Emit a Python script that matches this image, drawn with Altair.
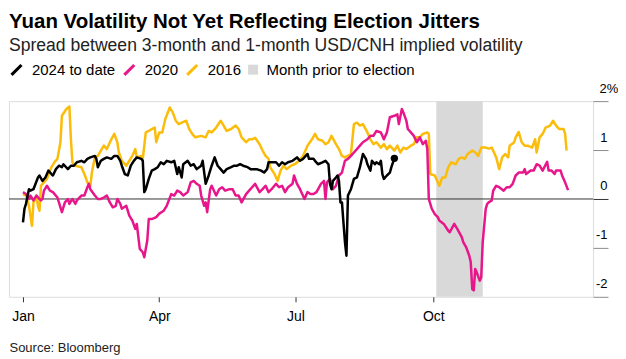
import altair as alt
import pandas as pd

FONT = "Liberation Sans"
YEAR_START = "2024-01-01"

# (day of year offset, spread in vol points)
S2024 = [(0, -0.48), (1, -0.20), (2, -0.10), (4, 0.20), (5, 0.17), (7, 0.20), (10, 0.44), (11, 0.48),
         (13, 0.37), (15, 0.44), (17, 0.58), (19, 0.51), (20, 0.48), (22, 0.61), (24, 0.68), (26, 0.65),
         (27, 0.71), (30, 0.61), (32, 0.68), (34, 0.68), (36, 0.75), (39, 0.78), (41, 0.75), (43, 0.82),
         (45, 0.85), (48, 0.88), (49, 0.82), (50, 0.65), (52, 0.78), (54, 0.82), (56, 0.85), (59, 0.82),
         (61, 0.88), (63, 0.88), (65, 0.78), (66, 0.68), (68, 0.51), (70, 0.48), (72, 0.68), (74, 0.78),
         (76, 0.85), (79, 0.82), (80, 0.78), (81, 0.14), (82, 0.20), (84, 0.41), (86, 0.58), (88, 0.61),
         (90, 0.65), (92, 0.75), (94, 0.71), (96, 0.78), (99, 0.75), (101, 0.78), (103, 0.51), (104, 0.65),
         (106, 0.44), (107, 0.71), (110, 0.78), (112, 0.68), (114, 0.71), (116, 0.61), (119, 0.68),
         (120, 0.78), (122, 0.31), (124, 0.48), (126, 0.68), (128, 0.85), (130, 0.68), (132, 0.61),
         (134, 0.54), (136, 0.61), (139, 0.65), (141, 0.68), (143, 0.68), (145, 0.71), (147, 0.68),
         (150, 0.65), (152, 0.61), (154, 0.61), (156, 0.61), (159, 0.58), (161, 0.54), (163, 0.61),
         (164, 0.75), (166, 0.75), (169, 0.75), (171, 0.68), (173, 0.75), (175, 0.71), (177, 0.75),
         (180, 0.78), (183, 0.85), (185, 0.78), (187, 0.82), (190, 0.92), (191, 0.82), (194, 0.82),
         (195, 0.78), (197, 0.71), (200, 0.75), (202, 0.78), (204, 0.71), (205, 0.31), (206, 0.20),
         (207, 0.37), (209, 0.44), (210, 0.48), (211, 0.37), (212, -0.07), (213, -0.07), (214, -0.48),
         (215, -0.88), (216, -1.16), (217, 0.07), (219, 0.20), (221, 0.41), (223, 0.44), (225, 0.65),
         (227, 0.92), (229, 0.82), (230, 0.71), (232, 0.58), (233, 0.78), (235, 0.71), (236, 0.75),
         (238, 0.71), (239, 0.78), (240, 0.51), (241, 0.41), (243, 0.48), (245, 0.54), (246, 0.65),
         (248, 0.83)]

S2020 = [(0, 0.14), (2, 0.10), (4, 0.00), (5, 0.07), (7, -0.03), (9, 0.07), (11, 0.00), (12, -0.03),
         (13, 0.00), (14, 0.17), (16, 0.27), (18, 0.17), (20, 0.14), (23, 0.03), (24, -0.07), (26, -0.27),
         (28, -0.07), (30, 0.00), (31, -0.10), (33, 0.00), (35, -0.10), (36, -0.03), (39, 0.07), (41, 0.07),
         (43, 0.24), (44, 0.31), (45, 0.20), (48, 0.07), (50, 0.00), (52, 0.00), (54, 0.03), (56, 0.07),
         (58, -0.07), (60, -0.17), (62, -0.14), (63, 0.00), (65, -0.10), (66, -0.20), (69, -0.14),
         (71, -0.34), (73, -0.44), (75, -0.61), (76, -0.51), (78, -1.02), (80, -1.09), (81, -1.19),
         (83, -0.85), (84, -0.41), (86, -0.41), (89, -0.37), (91, -0.30), (94, -0.24), (96, -0.14),
         (99, 0.10), (101, 0.07), (103, 0.17), (105, 0.14), (107, 0.07), (110, 0.14), (112, 0.34),
         (114, 0.37), (116, 0.31), (118, 0.27), (119, 0.07), (121, -0.14), (122, -0.07), (123, -0.27),
         (125, 0.20), (126, 0.27), (129, 0.07), (131, 0.20), (133, 0.24), (135, 0.17), (138, 0.20),
         (140, 0.20), (142, 0.07), (144, 0.07), (146, -0.07), (149, 0.10), (151, 0.17), (153, 0.24),
         (155, 0.31), (158, 0.14), (160, 0.20), (162, 0.27), (164, 0.14), (166, 0.20), (169, 0.31),
         (171, 0.24), (173, 0.27), (175, 0.14), (177, 0.24), (180, 0.31), (181, 0.48), (183, 0.31),
         (185, 0.20), (188, 0.00), (190, 0.14), (192, 0.10), (194, 0.10), (196, 0.14), (199, 0.31),
         (201, 0.37), (202, 0.00), (203, 0.34), (205, 0.41), (207, 0.20), (209, 0.27), (211, 0.48),
         (213, 0.54), (215, 0.78), (217, 0.82), (219, 0.88), (221, 0.95), (223, 1.02), (225, 1.09),
         (227, 1.16), (230, 1.22), (232, 1.29), (234, 1.29), (236, 1.39), (239, 1.36), (241, 1.22),
         (243, 1.36), (245, 1.67), (248, 1.70), (250, 1.73), (251, 1.53), (253, 1.84), (254, 1.77),
         (256, 1.60), (257, 1.43), (259, 1.36), (261, 1.29), (263, 1.16), (265, 1.26), (267, 1.12),
         (269, 1.19), (270, 1.02), (271, 0.00), (272, -0.10), (273, -0.20), (275, -0.31), (277, -0.37),
         (278, -0.44), (281, -0.51), (284, -0.65), (285, -0.68), (288, -0.51), (290, -0.61), (293, -0.78),
         (294, -0.88), (296, -0.99), (298, -1.16), (299, -1.29), (300, -1.84), (301, -1.87), (302, -1.43),
         (303, -1.50), (305, -1.67), (306, -1.60), (307, -0.88), (309, -0.20), (310, -0.10), (311, -0.07),
         (313, -0.03), (314, 0.17), (316, 0.27), (318, 0.24), (321, 0.17), (323, 0.24), (325, 0.24),
         (327, 0.31), (329, 0.48), (331, 0.54), (334, 0.54), (335, 0.61), (336, 0.51), (339, 0.58),
         (341, 0.58), (343, 0.71), (345, 0.68), (347, 0.58), (350, 0.76), (351, 0.58), (353, 0.58),
         (355, 0.51), (356, 0.58), (359, 0.58), (360, 0.48), (362, 0.34), (364, 0.18)]

S2016 = [(0, 0.10), (2, 0.07), (4, -0.14), (6, -0.55), (7, -0.07), (9, 0.07), (10, -0.14), (11, -0.24),
         (12, 0.27), (14, 0.34), (16, 0.41), (19, 0.65), (21, 0.75), (23, 0.82), (25, 1.16), (26, 1.70),
         (29, 1.84), (31, 1.89), (32, 1.22), (33, 0.75), (35, 0.68), (39, 0.65), (41, 0.51), (43, 0.34),
         (45, 0.27), (46, 0.54), (48, 0.85), (50, 0.88), (52, 0.99), (54, 1.09), (56, 1.02), (59, 1.22),
         (61, 1.33), (63, 1.16), (64, 0.95), (66, 0.78), (69, 0.68), (71, 0.78), (73, 0.88), (75, 1.02),
         (76, 0.85), (79, 0.88), (80, 0.82), (82, 1.36), (84, 1.39), (86, 1.43), (88, 1.46), (89, 1.16),
         (91, 1.36), (93, 1.36), (95, 1.63), (98, 1.87), (100, 1.77), (102, 1.60), (104, 1.53),
         (106, 1.56), (109, 1.60), (111, 1.43), (113, 1.33), (115, 1.26), (119, 1.29), (122, 1.26),
         (124, 1.39), (126, 1.36), (129, 1.46), (132, 1.60), (134, 1.50), (136, 1.39), (139, 1.43),
         (142, 1.50), (144, 1.43), (146, 1.26), (149, 1.16), (151, 1.22), (153, 1.22), (155, 1.25),
         (158, 1.12), (160, 0.99), (162, 0.88), (164, 0.82), (165, 0.65), (168, 0.51), (170, 0.37),
         (172, 0.58), (174, 0.68), (176, 0.61), (179, 0.68), (182, 0.72), (185, 0.80), (187, 0.88),
         (190, 1.09), (193, 1.22), (195, 1.33), (197, 1.22), (200, 1.19), (202, 1.12), (204, 1.16),
         (206, 1.29), (209, 1.12), (211, 1.02), (213, 0.88), (215, 0.85), (219, 0.92), (221, 1.53),
         (223, 1.56), (225, 1.50), (227, 1.53), (230, 1.36), (232, 1.22), (234, 1.12), (236, 1.16),
         (239, 1.05), (241, 1.12), (243, 1.02), (245, 1.09), (248, 0.99), (250, 1.09), (252, 0.95),
         (254, 1.05), (256, 1.02), (259, 1.09), (261, 1.12), (263, 1.26), (265, 1.26), (267, 1.33),
         (270, 1.36), (271, 1.33), (272, 0.51), (275, 0.48), (278, 0.27), (280, 0.44), (282, 0.44),
         (284, 0.65), (286, 0.75), (289, 0.71), (291, 0.82), (293, 0.85), (295, 0.82), (297, 0.92),
         (300, 0.99), (302, 0.95), (304, 0.88), (306, 1.05), (309, 1.05), (311, 1.03), (313, 1.05),
         (315, 0.92), (316, 0.85), (318, 0.61), (320, 0.85), (322, 0.92), (324, 0.85), (325, 1.09),
         (328, 1.16), (329, 1.26), (331, 1.37), (333, 1.16), (335, 1.09), (337, 1.09), (340, 1.05),
         (342, 1.22), (343, 0.95), (345, 1.26), (347, 1.33), (349, 1.46), (352, 1.50), (354, 1.60),
         (356, 1.50), (358, 1.43), (361, 1.43), (362, 1.33), (363, 0.99)]

SERIES = ["2024 to date", "2020", "2016"]
COLORS = ["#000000", "#e8168b", "#fbbc0a"]
SHADE_LABEL = "Month prior to election"
SHADE_START = "2024-10-03T00:00:00"
SHADE_END = "2024-11-03T00:00:00"
SHADE_COLOR = "#d9d9d9"
Y_TICKS = [-2, -1, 0, 1, 2]
X_TICKS = [(2024, 1, 1), (2024, 4, 1), (2024, 7, 1), (2024, 10, 1)]

rows = []
for name, pts in zip(SERIES, [S2024, S2020, S2016]):
    for d, v in pts:
        t = pd.Timestamp(YEAR_START) + pd.Timedelta(days=d)
        rows.append({"date": t.strftime("%Y-%m-%dT%H:%M:%S"), "value": v, "series": name})
df = pd.DataFrame(rows)

last = S2024[-1]
dot_df = pd.DataFrame([{
    "date": (pd.Timestamp(YEAR_START) + pd.Timedelta(days=last[0])).strftime("%Y-%m-%dT%H:%M:%S"),
    "value": last[1]}])
shade_df = pd.DataFrame([{"start": SHADE_START, "end": SHADE_END, "label": SHADE_LABEL,
                          "top": Y_TICKS[-1], "bottom": Y_TICKS[0]}])
zero_df = pd.DataFrame([{"y": 0}])

x_scale = alt.Scale(domain=[alt.DateTime(year=2023, month=12, date=22, hours=16),
                            alt.DateTime(year=2025, month=1, date=15, hours=16)], nice=False)
y_scale = alt.Scale(domain=[Y_TICKS[0], Y_TICKS[-1]], nice=False, zero=False)

x_axis = alt.Axis(values=[alt.DateTime(year=y, month=m, date=d) for y, m, d in X_TICKS],
                  format="%b", labelFontSize=14, labelFont=FONT, labelColor="#000",
                  labelPadding=8, labelFlush=False, labelOverlap=False,
                  tickSize=5, tickColor="#333333", domain=False, grid=False,
                  title="Source: Bloomberg", titleAnchor="start", titleAlign="left",
                  titleX=0, titleY=55, titleBaseline="alphabetic", titleFontSize=13,
                  titleFontWeight="normal", titleColor="#222222", titleFont=FONT)

y_axis = alt.Axis(orient="right", values=Y_TICKS, domain=False, grid=False, tickSize=15,
                  tickColor={"condition": {"test": "datum.value == 0", "value": "#333333"},
                             "value": "#8c8c8c"},
                  labelExpr="datum.value == 2 ? '2%' : '' + datum.value",
                  labelAlign={"condition": {"test": "datum.value == 2", "value": "left"},
                              "value": "right"},
                  labelPadding={"condition": {"test": "datum.value == 2", "value": -9},
                                "value": -1},
                  labelBaseline="alphabetic", labelOffset=-9, labelFontSize=13,
                  labelFont=FONT, labelColor="#000", title=None)

stroke_enc = alt.Stroke("series:N",
                        scale=alt.Scale(domain=SERIES, range=COLORS),
                        legend=alt.Legend(title=None, orient="none", legendX=0, legendY=-39,
                                          direction="horizontal", symbolType="M-1,1L1,-1",
                                          symbolSize=100, symbolStrokeWidth=3,
                                          labelFontSize=15, labelFont=FONT, labelColor="#000",
                                          labelOffset=8, columnPadding=2, padding=0))

base = alt.Chart(df)

shade = alt.Chart(shade_df).mark_rect().encode(
    x=alt.X("start:T", scale=x_scale, axis=x_axis),
    x2="end:T",
    y=alt.Y("top:Q", scale=y_scale, axis=y_axis),
    y2="bottom:Q",
    fill=alt.Fill("label:N", scale=alt.Scale(domain=[SHADE_LABEL], range=[SHADE_COLOR]),
                  legend=alt.Legend(title=None, orient="none", legendX=237, legendY=-39,
                                    direction="horizontal", symbolType="square",
                                    symbolSize=100, symbolStrokeWidth=0,
                                    symbolFillColor=SHADE_COLOR, symbolOpacity=1,
                                    labelFontSize=15, labelFont=FONT, labelColor="#000",
                                    labelOffset=6, padding=0)),
)

zero = alt.Chart(zero_df).mark_rule(color="#333333", strokeWidth=1).encode(
    y=alt.Y("y:Q", scale=y_scale, axis=y_axis))

lines = []
for name in ["2016", "2020", "2024 to date"]:
    lines.append(base.transform_filter(alt.datum.series == name).mark_line(
        strokeWidth=2.5, strokeJoin="round").encode(
        x=alt.X("date:T", scale=x_scale, axis=x_axis),
        y=alt.Y("value:Q", scale=y_scale, axis=y_axis),
        stroke=stroke_enc))

dot = alt.Chart(dot_df).mark_circle(size=55, color="#000000", opacity=1).encode(
    x=alt.X("date:T", scale=x_scale, axis=x_axis),
    y=alt.Y("value:Q", scale=y_scale, axis=y_axis))

chart = alt.layer(shade, zero, *lines, dot).properties(
    width=585, height=196,
    padding={"left": 0, "top": 3, "right": 0, "bottom": 0},
    title=alt.TitleParams(
        text="Yuan Volatility Not Yet Reflecting Election Jitters",
        subtitle="Spread between 3-month and 1-month USD/CNH implied volatility",
        anchor="start", frame="group", fontSize=20.5, fontWeight="bold", font=FONT,
        color="#000000", subtitleFontSize=17.6, subtitleFont=FONT, subtitleColor="#222222",
        subtitlePadding=4, offset=8),
).configure_view(stroke=None).configure(font=FONT)

chart.save("out.html", embed_options={"renderer": "svg", "actions": False})
